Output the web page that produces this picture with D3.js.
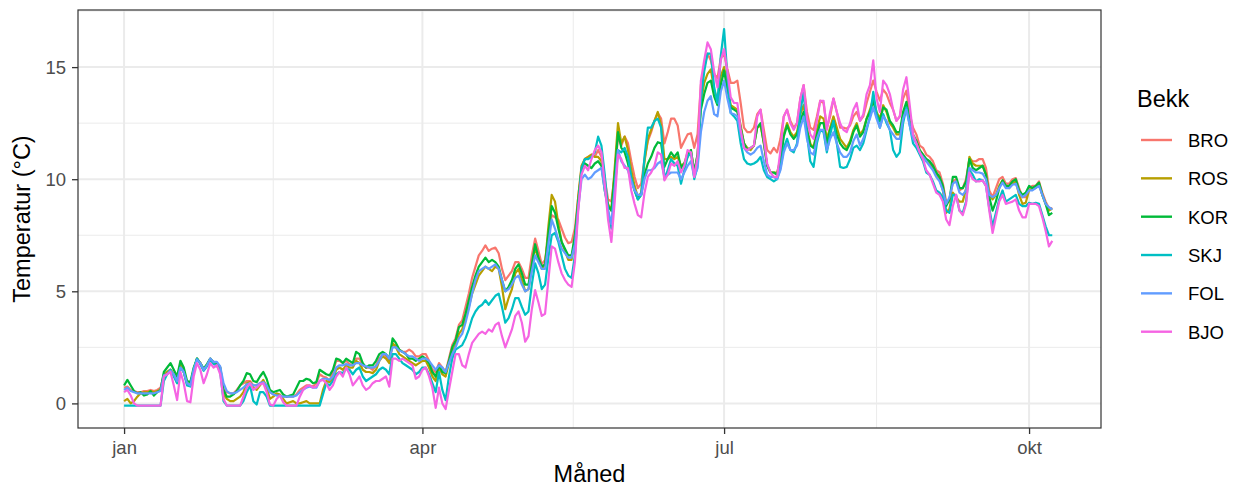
<!DOCTYPE html>
<html>
<head>
<meta charset="utf-8">
<script src="https://cdn.jsdelivr.net/npm/d3@7"></script>
<style>
  body { margin: 0; background: #ffffff; }
  svg { display: block; }
  text { font-family: "Liberation Sans", Arial, sans-serif; }
</style>
</head>
<body>
<svg id="chart" width="1236" height="487"></svg>
<script>
// Daily mean water temperature per stream, starting 1 January
const streams = ["BRO", "ROS", "KOR", "SKJ", "FOL", "BJO"];
const colors = ["#F8766D", "#B79F00", "#00BA38", "#00BFC4", "#619CFF", "#F564E3"];
const monthLabels = ["jan", "apr", "jul", "okt"];
const monthStarts = [[0, 1], [3, 1], [6, 1], [9, 1]];
const yTicks = [0, 5, 10, 15];

const BRO = [
  0.7,0.75,0.6,0.55,0.5,0.5,0.55,0.55,0.6,0.55,
  0.6,0.7,1.3,1.4,1.5,1.3,1.0,1.7,1.4,0.9,
  0.85,1.5,2.0,1.8,1.5,1.7,2.0,1.8,1.8,1.6,
  0.6,0.5,0.45,0.45,0.6,0.8,0.9,1.0,1.0,0.8,
  0.8,0.9,1.0,0.8,0.5,0.4,0.4,0.35,0.3,0.3,
  0.3,0.3,0.4,0.6,0.7,0.8,0.8,0.75,0.9,1.3,
  1.2,1.15,1.0,1.4,1.9,1.9,1.8,1.9,1.75,1.7,
  2.0,2.0,1.7,1.6,1.6,1.5,1.7,2.0,2.2,2.1,
  1.9,2.6,2.6,2.4,2.3,2.3,2.4,2.3,2.1,2.1,
  2.2,2.2,1.9,1.5,1.4,1.8,1.6,1.4,2.0,2.6,
  2.9,3.5,3.7,4.3,4.9,5.6,6.1,6.6,6.8,7.05,
  6.8,6.9,6.95,6.7,6.0,5.5,5.7,5.9,6.3,6.3,
  6.0,5.6,5.6,6.6,7.35,6.8,6.2,6.4,7.4,8.4,
  8.3,8.2,7.8,7.4,7.15,7.2,7.8,9.2,10.5,10.9,
  11.0,11.1,11.0,11.3,11.0,10.0,9.1,9.0,10.2,11.9,
  11.5,11.9,11.6,10.8,10.1,9.6,9.8,10.9,11.7,12.1,
  12.6,12.95,12.7,11.6,12.1,12.7,12.7,12.4,11.4,11.7,
  12.0,12.05,11.4,12.0,14.2,15.0,15.6,15.3,14.7,14.5,
  15.4,15.6,14.9,14.3,14.3,14.4,13.4,12.3,12.1,12.1,
  12.3,12.9,13.1,12.2,11.3,11.15,11.4,11.2,11.8,12.8,
  13.1,12.6,12.3,12.5,13.6,14.2,13.0,12.3,12.2,12.8,
  13.5,13.4,12.3,12.8,13.6,13.0,12.3,12.3,12.25,12.4,
  12.8,13.0,12.6,12.8,13.4,13.9,14.4,13.9,13.5,14.0,
  13.8,13.4,13.1,12.6,12.8,13.6,13.95,12.9,12.3,12.0,
  11.5,11.4,11.1,11.0,10.8,10.4,10.3,9.8,9.0,9.0,
  9.9,10.0,9.5,9.6,10.0,10.9,10.8,10.8,10.9,10.9,
  10.5,9.5,9.2,9.6,10.0,10.1,9.8,9.8,10.0,10.05,
  9.6,9.2,9.2,9.6,9.7,9.7,9.9,9.4,9.0,8.7,8.7
];

const ROS = [
  0.1,0.2,0.0,0.1,0.3,0.45,0.5,0.5,0.55,0.5,
  0.55,0.6,1.2,1.4,1.5,1.3,0.9,1.75,1.4,0.85,
  0.8,1.5,2.0,1.8,1.5,1.7,1.95,1.8,1.75,1.5,
  0.4,0.2,0.1,0.1,0.2,0.3,0.5,0.9,0.95,0.7,
  0.6,0.8,1.05,0.7,0.2,0.3,0.45,0.4,0.2,0.0,
  0.05,0.1,0.0,0.0,0.05,0.1,0.0,0.0,0.0,0.0,
  0.6,1.0,0.95,1.1,1.5,1.6,1.5,1.7,1.6,1.6,
  1.9,1.8,1.5,1.4,1.4,1.35,1.5,1.9,2.1,2.0,
  1.8,2.7,2.5,2.2,2.1,2.0,1.9,1.8,1.7,1.8,
  1.9,1.9,1.6,1.2,1.0,1.6,1.3,1.2,1.8,2.3,
  2.6,3.1,3.3,3.8,4.3,4.9,5.3,5.7,5.9,6.1,
  6.0,5.9,6.1,6.0,5.2,4.2,4.7,5.1,5.8,6.0,
  5.5,5.0,5.1,6.0,7.0,6.4,6.0,6.2,7.9,9.3,
  9.0,8.0,7.2,6.8,6.4,6.4,7.4,9.2,10.6,10.9,
  11.0,11.1,11.0,11.0,10.8,9.7,8.9,8.6,10.5,12.5,
  11.6,11.9,11.3,10.4,9.7,9.2,9.4,10.8,11.8,12.2,
  12.6,13.0,12.4,10.9,10.9,11.0,10.9,11.0,10.6,10.7,
  11.2,11.3,10.3,11.1,13.4,14.3,14.7,14.9,14.0,13.5,
  14.6,15.0,14.2,13.3,13.2,13.1,12.4,11.6,11.4,11.3,
  11.5,12.3,12.4,11.6,10.6,10.3,10.3,10.3,10.9,12.0,
  12.5,12.1,11.9,12.1,12.9,13.3,12.3,11.6,11.4,12.2,
  12.8,12.7,11.8,12.3,12.8,12.3,11.8,11.6,11.4,11.7,
  12.2,12.5,12.0,12.2,12.7,13.1,13.6,13.0,12.7,13.3,
  13.0,12.5,12.3,12.0,12.0,12.8,13.3,12.5,11.9,11.7,
  11.3,11.1,10.8,10.7,10.5,10.2,10.0,9.5,8.5,8.7,
  9.4,9.2,9.0,9.0,9.6,11.0,10.7,10.6,10.6,10.6,
  10.2,9.3,9.1,9.3,9.7,9.95,9.7,9.6,9.8,9.9,
  9.3,8.9,8.95,9.5,9.6,9.6,9.8,9.3,8.9,8.6,8.7
];

const KOR = [
  0.8,1.05,0.8,0.55,0.45,0.5,0.35,0.4,0.55,0.35,
  0.5,0.6,1.4,1.6,1.8,1.5,1.2,1.9,1.6,1.0,
  0.95,1.6,2.0,1.8,1.55,1.75,2.0,1.85,1.8,1.6,
  0.6,0.3,0.3,0.4,0.55,0.8,1.0,1.35,1.3,1.0,
  0.95,1.2,1.4,1.1,0.6,0.5,0.55,0.6,0.4,0.3,
  0.35,0.4,0.7,1.0,1.0,1.1,1.05,0.9,0.95,1.5,
  1.4,1.3,1.25,1.5,2.0,1.95,1.8,2.0,1.9,1.8,
  2.3,2.2,1.8,1.6,1.7,1.7,1.9,2.2,2.3,2.2,
  2.0,2.9,2.7,2.4,2.3,2.2,2.0,2.0,1.9,2.0,
  2.1,2.0,1.8,1.4,1.2,1.7,1.4,1.35,1.9,2.5,
  2.8,3.4,3.5,4.0,4.6,5.2,5.7,6.1,6.3,6.5,
  6.3,6.4,6.3,6.1,5.5,5.0,5.2,5.5,6.0,6.2,
  5.8,5.3,5.3,6.2,7.1,6.5,6.1,6.2,7.6,8.8,
  8.5,7.8,7.2,6.9,6.6,6.6,7.5,9.0,10.4,10.7,
  10.6,10.5,10.7,10.8,10.6,9.5,8.8,8.6,10.2,12.1,
  11.4,11.2,10.7,10.0,9.5,9.1,9.3,10.2,10.7,11.0,
  11.4,11.65,11.6,10.55,10.9,11.2,11.0,11.2,10.5,10.7,
  11.0,11.3,10.3,11.1,13.1,13.8,14.3,14.4,13.7,13.3,
  14.2,14.85,14.0,13.2,13.1,13.0,12.3,11.6,11.3,11.4,
  11.5,12.3,12.5,11.6,10.6,10.3,10.3,10.2,10.8,11.9,
  12.4,12.0,11.8,12.0,12.6,13.0,12.2,11.5,11.4,12.0,
  12.5,12.5,11.6,12.2,12.6,12.0,11.6,11.4,11.3,11.6,
  12.1,12.4,11.9,12.1,12.7,13.0,13.5,12.9,12.6,13.2,
  13.1,12.6,12.4,12.1,12.1,13.0,13.45,12.6,12.0,11.7,
  11.3,11.1,10.9,10.8,10.6,10.3,10.1,9.7,8.8,9.1,
  10.1,10.1,9.6,9.6,9.9,10.9,10.5,10.4,10.5,10.6,
  10.2,9.2,8.6,9.0,9.6,9.95,9.7,9.7,9.9,10.0,
  9.5,9.3,9.4,9.7,9.6,9.7,9.85,9.3,8.9,8.4,8.5
];

const SKJ = [
  -0.1,-0.1,-0.1,-0.1,-0.1,-0.1,-0.1,-0.1,-0.1,-0.1,
  -0.1,-0.1,1.0,1.3,1.5,1.2,0.9,1.6,1.4,0.8,
  0.75,1.5,2.0,1.75,1.45,1.65,1.95,1.75,1.7,1.4,
  0.1,-0.1,-0.1,-0.1,-0.1,-0.1,0.1,0.5,0.8,0.1,
  -0.05,0.5,0.5,0.3,-0.1,-0.1,-0.1,-0.1,-0.1,-0.1,
  -0.1,-0.1,-0.1,-0.1,-0.1,-0.1,-0.1,-0.1,-0.1,-0.1,
  0.4,0.9,0.8,1.0,1.3,1.4,1.35,1.55,1.5,1.3,
  1.5,1.6,1.2,1.0,1.1,1.2,1.3,1.5,1.6,1.5,
  1.3,2.2,2.2,2.0,1.8,1.7,1.6,1.5,1.3,1.4,
  1.6,1.6,1.3,0.9,0.5,1.4,0.6,0.15,1.2,2.0,
  2.4,2.5,2.6,2.9,3.3,3.8,4.1,4.3,4.4,4.6,
  4.4,4.6,4.8,4.9,4.3,3.6,3.8,4.2,4.7,4.7,
  4.3,3.95,4.1,5.3,6.25,5.8,5.1,5.3,6.5,7.5,
  7.6,7.2,6.6,6.0,5.7,5.6,6.6,8.8,10.5,10.9,
  10.9,11.0,11.2,11.9,11.5,10.2,8.6,7.8,9.5,11.3,
  11.2,11.4,11.0,10.1,9.5,9.1,9.3,11.0,12.3,12.3,
  12.6,12.7,12.3,10.0,10.4,10.9,10.7,10.6,9.8,10.4,
  11.0,11.2,10.0,10.6,13.5,14.8,15.6,15.6,14.1,13.4,
  15.5,16.7,14.6,12.95,12.8,12.6,11.6,10.9,10.7,10.65,
  10.7,10.8,11.0,10.4,10.1,10.0,9.9,10.0,10.5,11.4,
  11.8,11.3,11.2,11.6,13.0,13.9,12.0,10.8,10.55,11.6,
  12.2,12.1,11.2,12.0,12.6,11.6,10.55,10.5,10.55,10.9,
  11.4,11.5,11.3,11.6,12.2,12.8,13.9,12.9,12.3,12.9,
  12.5,12.2,11.3,11.0,11.2,12.5,13.2,12.4,11.6,11.4,
  11.1,10.8,10.3,10.2,9.9,9.5,9.4,9.2,8.6,8.5,
  9.3,9.3,8.6,8.5,9.0,10.4,10.2,9.9,10.0,9.95,
  9.7,8.7,7.9,8.5,9.1,9.5,9.0,9.1,9.2,9.3,
  8.9,8.8,8.8,8.95,8.9,8.95,8.9,8.4,7.9,7.5,7.5
];

const FOL = [
  0.6,0.7,0.55,0.5,0.45,0.45,0.45,0.45,0.45,0.45,
  0.5,0.55,1.25,1.3,1.45,1.3,1.0,1.6,1.4,0.9,
  0.8,1.5,1.95,1.8,1.5,1.7,2.0,1.85,1.85,1.65,
  0.9,0.55,0.45,0.45,0.5,0.6,0.7,0.85,0.9,0.8,
  0.8,0.9,0.95,0.8,0.5,0.4,0.35,0.35,0.3,0.3,
  0.3,0.3,0.35,0.5,0.6,0.7,0.75,0.7,0.7,1.0,
  1.1,1.1,1.05,1.2,1.6,1.7,1.7,1.75,1.7,1.7,
  1.8,1.8,1.7,1.65,1.6,1.6,1.65,1.9,2.2,2.2,
  2.0,2.5,2.5,2.35,2.3,2.2,2.1,2.1,2.0,1.9,
  2.0,2.0,1.9,1.7,1.5,1.7,1.6,1.4,1.8,2.2,
  2.5,2.9,3.1,3.6,4.2,4.9,5.5,5.9,6.0,6.1,
  6.0,6.1,6.2,6.0,5.5,5.0,5.1,5.3,5.6,5.7,
  5.3,5.0,5.1,5.9,6.6,6.3,6.0,6.0,7.1,8.2,
  7.8,7.3,6.9,6.7,6.5,6.5,7.1,8.7,10.0,10.2,
  10.0,10.1,10.3,10.4,10.5,9.5,8.6,8.0,9.6,11.3,
  10.8,10.6,10.4,9.9,9.5,9.3,9.3,10.0,10.4,10.4,
  10.5,10.7,10.8,10.1,10.2,10.3,10.3,10.3,10.0,10.3,
  10.6,10.8,10.1,10.5,12.1,13.0,13.5,13.7,12.9,12.8,
  13.9,14.4,13.6,12.95,12.9,12.8,12.0,11.4,11.2,11.1,
  11.2,11.4,11.5,10.8,10.2,10.1,10.1,10.0,10.4,11.2,
  11.6,11.3,11.3,11.5,12.3,12.8,11.8,11.2,11.1,11.8,
  12.2,12.2,11.3,11.8,12.1,11.6,11.2,11.0,11.0,11.2,
  11.7,12.0,11.5,11.8,12.3,12.7,13.2,12.7,12.3,12.8,
  12.6,12.2,12.0,11.8,11.8,12.7,13.1,12.4,11.8,11.6,
  11.2,11.0,10.8,10.6,10.4,10.1,9.9,9.5,8.9,9.2,
  9.8,9.9,9.4,9.3,9.5,10.5,10.4,10.3,10.3,10.25,
  10.0,9.3,9.2,9.3,9.6,9.85,9.6,9.6,9.75,9.8,
  9.4,9.2,9.3,9.5,9.5,9.6,9.7,9.3,8.9,8.75,8.65
];

const BJO = [
  0.5,0.6,0.35,0.0,-0.1,-0.1,-0.1,-0.1,-0.1,-0.1,
  -0.1,-0.1,1.2,1.3,1.4,0.8,0.15,1.4,0.9,0.1,
  0.05,1.2,1.8,1.5,0.9,1.3,1.8,1.6,1.7,1.3,
  0.2,-0.1,-0.1,-0.1,-0.1,-0.1,0.3,0.7,0.9,0.6,
  0.7,0.85,0.9,0.5,-0.05,-0.1,0.2,0.35,0.05,-0.1,
  -0.1,-0.1,-0.1,0.3,0.6,0.75,0.8,0.7,0.75,1.0,
  1.05,0.9,0.6,0.8,1.2,1.4,1.2,1.6,1.3,0.8,
  1.0,1.2,0.8,0.6,0.7,0.9,1.0,1.0,1.1,1.2,
  0.75,2.0,2.0,1.9,2.0,1.9,1.8,1.7,1.1,1.2,
  1.5,1.6,1.2,0.7,-0.2,0.7,0.0,-0.25,0.6,1.4,
  2.2,2.2,1.7,1.6,2.2,2.7,2.9,3.1,3.2,3.1,
  3.3,3.2,3.5,3.6,3.0,2.5,2.9,3.3,3.9,4.1,
  3.6,2.75,3.0,4.2,5.05,4.5,3.9,4.0,5.5,7.0,
  6.9,6.3,5.8,5.5,5.3,5.2,6.3,8.6,10.2,10.6,
  10.4,10.9,11.3,11.5,11.2,9.8,8.2,7.2,9.0,11.1,
  10.9,10.5,10.5,9.5,8.9,8.4,8.3,9.4,10.1,10.3,
  10.6,11.2,11.1,9.95,10.2,10.7,10.6,10.8,10.3,10.6,
  11.3,11.2,10.1,11.0,14.4,15.3,16.1,15.8,14.8,14.1,
  15.3,15.8,14.8,13.65,13.4,13.4,12.2,11.4,11.3,11.4,
  11.5,12.8,13.1,11.8,10.7,10.3,10.1,10.1,11.3,12.8,
  13.1,12.5,12.2,12.5,13.6,14.2,12.7,12.0,11.8,12.6,
  13.5,13.5,12.2,13.0,13.6,13.0,12.5,12.2,12.1,12.5,
  13.1,13.4,12.6,12.9,13.8,14.2,15.3,13.6,13.0,14.4,
  14.2,13.8,13.1,12.6,12.8,14.0,14.55,13.3,12.0,11.6,
  11.2,10.9,10.4,10.2,9.8,9.4,9.3,9.0,8.2,7.95,
  8.8,9.3,8.6,8.4,8.9,10.3,10.0,9.9,9.9,9.95,
  9.7,8.6,7.6,8.3,9.0,9.3,8.9,8.95,9.0,9.1,
  8.6,8.3,8.3,8.9,8.9,8.9,8.8,8.3,7.7,7.0,7.25
];

const seriesValues = [BRO, ROS, KOR, SKJ, FOL, BJO];

// ---- layout ----
const W = 1236, H = 487;
const panel = { left: 78, right: 1101, top: 10, bottom: 428 };
const year = 2021;
const firstDay = new Date(year, 0, 1);
const dayMs = 24 * 3600 * 1000;
const nDays = BRO.length;

const svg = d3.select("#chart");
svg.append("rect").attr("width", W).attr("height", H).attr("fill", "#ffffff");

// x: time scale padded around the data range, y: linear with 5% padding
const x = d3.scaleTime()
  .domain([new Date(+firstDay - 13.9 * dayMs), new Date(+firstDay + 294.7 * dayMs)])
  .range([panel.left, panel.right]);

const allVals = seriesValues.flat();
const yMin = d3.min(allVals), yMax = d3.max(allVals);
const yPad = (yMax - yMin) * 0.05;
const y = d3.scaleLinear()
  .domain([yMin - yPad, yMax + yPad])
  .range([panel.bottom, panel.top]);

const majorDates = monthStarts.map(([m, d]) => new Date(year, m, d));
const minorDates = d3.pairs(majorDates).map(([a, b]) => new Date((+a + +b) / 2));
const minorY = d3.pairs(yTicks).map(([a, b]) => (a + b) / 2)
  .concat([yTicks[yTicks.length - 1] + 2.5])
  .filter(v => v > y.domain()[0] && v < y.domain()[1]);

const grid = svg.append("g");
grid.selectAll(".gy-minor").data(minorY).join("line")
  .attr("x1", panel.left).attr("x2", panel.right)
  .attr("y1", d => y(d)).attr("y2", d => y(d))
  .attr("stroke", "#EBEBEB").attr("stroke-width", 1);
grid.selectAll(".gx-minor").data(minorDates).join("line")
  .attr("y1", panel.top).attr("y2", panel.bottom)
  .attr("x1", d => x(d)).attr("x2", d => x(d))
  .attr("stroke", "#EBEBEB").attr("stroke-width", 1);
grid.selectAll(".gy-major").data(yTicks).join("line")
  .attr("x1", panel.left).attr("x2", panel.right)
  .attr("y1", d => y(d)).attr("y2", d => y(d))
  .attr("stroke", "#EBEBEB").attr("stroke-width", 2);
grid.selectAll(".gx-major").data(majorDates).join("line")
  .attr("y1", panel.top).attr("y2", panel.bottom)
  .attr("x1", d => x(d)).attr("x2", d => x(d))
  .attr("stroke", "#EBEBEB").attr("stroke-width", 2);

// ---- lines ----
const line = d3.line()
  .x((d, i) => x(new Date(+firstDay + i * dayMs)))
  .y(d => y(d));

const plot = svg.append("g");
seriesValues.forEach((vals, k) => {
  plot.append("path")
    .datum(vals)
    .attr("d", line)
    .attr("fill", "none")
    .attr("stroke", colors[k])
    .attr("stroke-width", 2.2)
    .attr("stroke-linejoin", "round");
});

// panel border
svg.append("rect")
  .attr("x", panel.left).attr("y", panel.top)
  .attr("width", panel.right - panel.left).attr("height", panel.bottom - panel.top)
  .attr("fill", "none").attr("stroke", "#333333").attr("stroke-width", 1.2);

// ---- axes ----
const xAxis = d3.axisBottom(x)
  .tickValues(majorDates)
  .tickFormat((d, i) => monthLabels[i])
  .tickSize(6).tickPadding(7);
const gx = svg.append("g").attr("transform", `translate(0,${panel.bottom})`).call(xAxis);
gx.select(".domain").remove();
gx.selectAll("line").attr("stroke", "#333333").attr("stroke-width", 1.3);
gx.selectAll("text").attr("fill", "#4D4D4D").style("font-size", "18.5px");

const yAxis = d3.axisLeft(y)
  .tickValues(yTicks)
  .tickFormat(d3.format("d"))
  .tickSize(6).tickPadding(6);
const gy = svg.append("g").attr("transform", `translate(${panel.left},0)`).call(yAxis);
gy.select(".domain").remove();
gy.selectAll("line").attr("stroke", "#333333").attr("stroke-width", 1.3);
gy.selectAll("text").attr("fill", "#4D4D4D").style("font-size", "18.5px");

// axis titles
svg.append("text")
  .attr("x", (panel.left + panel.right) / 2).attr("y", 482)
  .attr("text-anchor", "middle")
  .style("font-size", "23.5px").attr("fill", "#000")
  .text("Måned");
svg.append("text")
  .attr("transform", `translate(30,${(panel.top + panel.bottom) / 2}) rotate(-90)`)
  .attr("text-anchor", "middle")
  .style("font-size", "23.5px").attr("fill", "#000")
  .text("Temperatur (°C)");

// ---- legend ----
const legend = svg.append("g");
legend.append("text")
  .attr("x", 1137).attr("y", 107)
  .style("font-size", "23.5px").attr("fill", "#000")
  .text("Bekk");
const rowY = d3.scalePoint().domain(streams).range([140, 331.7]);
const rows = legend.selectAll(".row").data(streams).join("g")
  .attr("transform", d => `translate(0,${rowY(d)})`);
rows.append("line")
  .attr("x1", 1141).attr("x2", 1172)
  .attr("stroke", (d, i) => colors[i]).attr("stroke-width", 2.4);
rows.append("text")
  .attr("x", 1188).attr("y", 7)
  .style("font-size", "18.5px").attr("fill", "#000")
  .text(d => d);
</script>
</body>
</html>
